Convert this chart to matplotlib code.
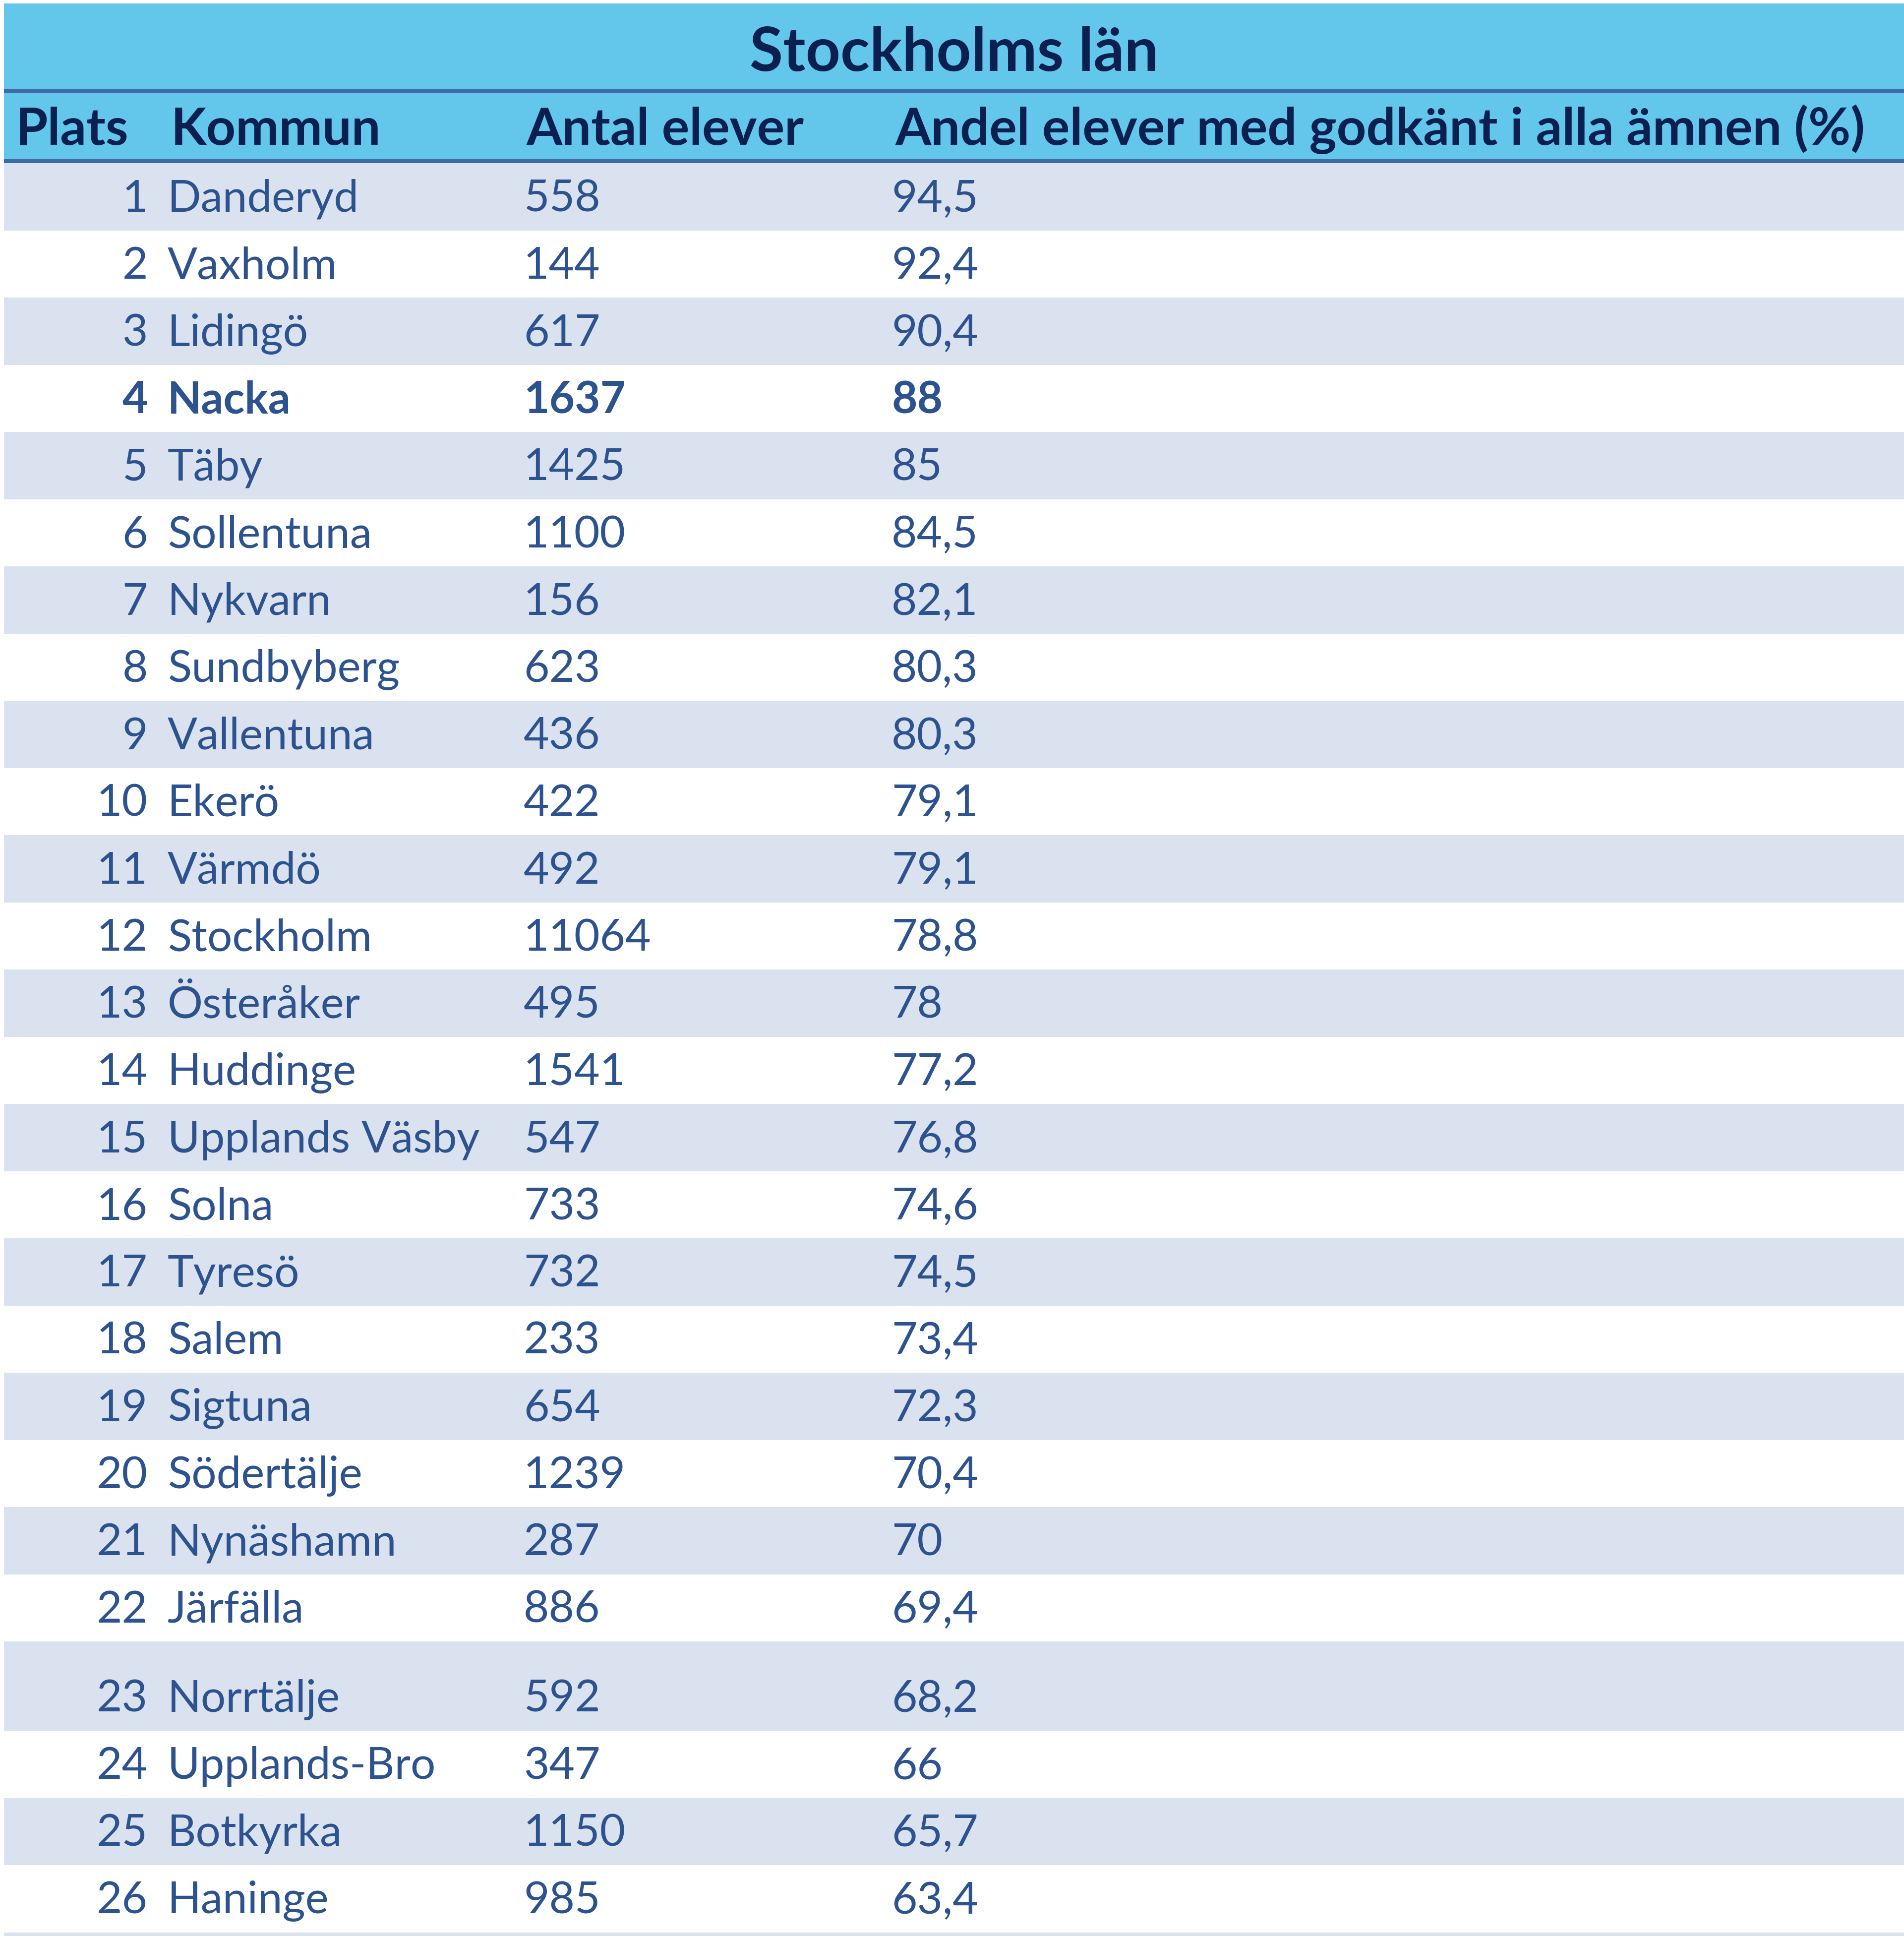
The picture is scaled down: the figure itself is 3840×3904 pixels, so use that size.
import matplotlib
matplotlib.use("Agg")
import matplotlib.pyplot as plt
from matplotlib.patches import Rectangle

# ---- data -----------------------------------------------------------------
TITLE = "Stockholms län"
HEADERS = ["Plats", "Kommun", "Antal elever",
           "Andel elever med godkänt i alla ämnen (%)"]
rank = list(range(1, 27))
kommun = ["Danderyd", "Vaxholm", "Lidingö", "Nacka", "Täby", "Sollentuna",
          "Nykvarn", "Sundbyberg", "Vallentuna", "Ekerö", "Värmdö", "Stockholm",
          "Österåker", "Huddinge", "Upplands Väsby", "Solna", "Tyresö", "Salem",
          "Sigtuna", "Södertälje", "Nynäshamn", "Järfälla", "Norrtälje",
          "Upplands-Bro", "Botkyrka", "Haninge"]
antal = [558, 144, 617, 1637, 1425, 1100, 156, 623, 436, 422, 492, 11064,
         495, 1541, 547, 733, 732, 233, 654, 1239, 287, 886, 592, 347, 1150, 985]
andel = ["94,5", "92,4", "90,4", "88", "85", "84,5", "82,1", "80,3", "80,3",
         "79,1", "79,1", "78,8", "78", "77,2", "76,8", "74,6", "74,5", "73,4",
         "72,3", "70,4", "70", "69,4", "68,2", "66", "65,7", "63,4"]
highlight = "Nacka"

# ---- style ----------------------------------------------------------------
W, H = 3840, 3905
FONT = "Lato"
HEAD_BG = "#63C6EB"
RULE = "#3E6AA8"
BAND = "#D9E2EE"
HEAD_TXT = "#0B1F50"
BODY_TXT = "#2D5290"

fig = plt.figure(figsize=(W / 100, H / 100), dpi=100)
ax = fig.add_axes([0, 0, 1, 1])
ax.set_xlim(0, W)
ax.set_ylim(H, 0)
ax.axis("off")

x0 = 8
# title + header bands
ax.add_patch(Rectangle((x0, 8), W - x0, 322, color=HEAD_BG, lw=0))
ax.add_patch(Rectangle((x0, 181), W - x0, 7, color=RULE, lw=0))
ax.add_patch(Rectangle((x0, 322), W - x0, 8, color=RULE, lw=0))
ax.text((x0 + W) / 2, 143, TITLE, ha="center", va="baseline",
        fontsize=88, fontweight="bold", color=HEAD_TXT, family=FONT)

head_x = [32, 345, 1062, 1806]
for hx, h in zip(head_x, HEADERS):
    ax.text(hx, 292, h, ha="left", va="baseline", fontsize=75,
            fontweight="bold", color=HEAD_TXT, family=FONT)

# body rows
heights = [135.5] * len(rank)
heights[22] = 180
y = 330
for i, (r, k, a, p) in enumerate(zip(rank, kommun, antal, andel)):
    h = heights[i]
    if i % 2 == 0:
        ax.add_patch(Rectangle((x0, y), W - x0, h, color=BAND, lw=0))
    base = y + h - 39
    fw = "bold" if k == highlight else "normal"
    kw = dict(va="baseline", fontsize=64, color=BODY_TXT, family=FONT,
              fontweight=fw)
    ax.text(298, base, str(r), ha="right", **kw)
    ax.text(338, base, k, ha="left", **kw)
    ax.text(1056, base, str(a), ha="left", **kw)
    ax.text(1798, base, p, ha="left", **kw)
    y += h

# start of the next (cut off) band
ax.add_patch(Rectangle((x0, y), W - x0, H - y, color=BAND, lw=0))

fig.savefig("out.png", dpi=100, facecolor="white")
